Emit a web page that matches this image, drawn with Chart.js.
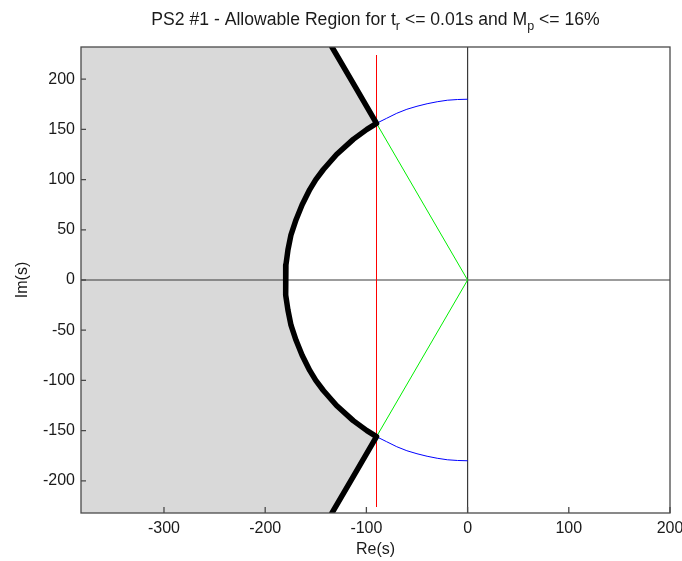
<!DOCTYPE html>
<html>
<head>
<meta charset="utf-8">
<script src="https://cdn.jsdelivr.net/npm/chart.js@4.4.1/dist/chart.umd.min.js"></script>
<style>
  html, body { margin: 0; padding: 0; background: #ffffff; }
  canvas { display: block; }
</style>
</head>
<body>
<canvas id="c" width="682" height="561"></canvas>
<script>
// ---- data ----
const xRange = [-382, 200];
const yRange = [-232, 232];
const xTickValues = [-300, -200, -100, 0, 100, 200];
const yTickValues = [-200, -150, -100, -50, 0, 50, 100, 150, 200];

// allowable-region boundary (thick black)
const boundaryX = [-134, -112, -90, -99.5, -113, -129.5, -142.5, -150, -156, -163.5, -169.5, -174.5, -177.5, -179.5, -180,
                   -179.5, -177.5, -174.5, -169.5, -163.5, -156, -150, -142.5, -129.5, -113, -99.5, -90, -112, -134];
const boundaryY = [232, 194, 156, 150, 140, 125, 110, 100, 90, 75, 60, 45, 30, 15, 0,
                   -15, -30, -45, -60, -75, -90, -100, -110, -125, -140, -150, -156, -194, -232];

// blue arcs (radius of natural frequency)
const blueX = [-90, -80, -70, -60, -50, -40, -30, -20, -10, 0];
const blueUpperY = [156, 161, 166, 170, 173, 175.5, 177.5, 179, 179.7, 180];
const blueLowerY = [-156, -161, -166, -170, -173, -175.5, -177.5, -179, -179.7, -180];

// green damping lines
const greenX = [-90, 0, -90];
const greenY = [156, 0, -156];

// red rise-time line
const redX = [-90, -90];
const redY = [224, -226];

// axis lines through origin
const hAxisX = [-382, 200];
const hAxisY = [0, 0];
const vAxisX = [0, 0];
const vAxisY = [-232, 232];

const titleParts = [
  { t: 'PS2 #1 - Allowable Region for t', sub: false },
  { t: 'r', sub: true },
  { t: ' <= 0.01s and M', sub: false },
  { t: 'p', sub: true },
  { t: ' <= 16%', sub: false }
];

const FONT = "'Liberation Sans', Arial, sans-serif";
const TEXT = '#1a1a1a';

const pts = (xs, ys) => xs.map((x, i) => ({ x: x, y: ys[i] }));

const regionFill = {
  id: 'regionFill',
  beforeDatasetsDraw(chart) {
    const meta = chart.getDatasetMeta(0);
    const a = chart.chartArea;
    const ctx = chart.ctx;
    const xs = chart.scales.x, ys = chart.scales.y;
    ctx.save();
    ctx.beginPath();
    ctx.rect(a.left, a.top, a.right - a.left, a.bottom - a.top);
    ctx.clip();
    ctx.beginPath();
    ctx.moveTo(xs.getPixelForValue(xRange[0]), ys.getPixelForValue(yRange[1]));
    meta.data.forEach(p => ctx.lineTo(p.x, p.y));
    ctx.lineTo(xs.getPixelForValue(xRange[0]), ys.getPixelForValue(yRange[0]));
    ctx.closePath();
    ctx.fillStyle = '#d9d9d9';
    ctx.fill();
    ctx.restore();
  }
};

const frame = {
  id: 'frame',
  afterDraw(chart) {
    const a = chart.chartArea;
    const ctx = chart.ctx;
    ctx.save();
    ctx.strokeStyle = '#4a4a4a';
    ctx.lineWidth = 1.3;
    // inward ticks
    ctx.beginPath();
    chart.scales.x.ticks.forEach(t => {
      const px = chart.scales.x.getPixelForValue(t.value);
      ctx.moveTo(px, a.bottom);
      ctx.lineTo(px, a.bottom - 6);
    });
    chart.scales.y.ticks.forEach(t => {
      const py = chart.scales.y.getPixelForValue(t.value);
      ctx.moveTo(a.left, py);
      ctx.lineTo(a.left + 5, py);
    });
    ctx.stroke();
    ctx.strokeRect(a.left, a.top, a.right - a.left, a.bottom - a.top);

    // title with subscripts
    const main = '17.6px ' + FONT, sub = '12.5px ' + FONT;
    let total = 0;
    titleParts.forEach(p => { ctx.font = p.sub ? sub : main; total += ctx.measureText(p.t).width; });
    let x = (a.left + a.right) / 2 - total / 2;
    ctx.fillStyle = TEXT;
    ctx.textBaseline = 'alphabetic';
    ctx.textAlign = 'left';
    titleParts.forEach(p => {
      ctx.font = p.sub ? sub : main;
      ctx.fillText(p.t, x, p.sub ? 30 : 25);
      x += ctx.measureText(p.t).width;
    });
    ctx.restore();
  }
};

const lineDs = (data, color, width, extra) => Object.assign({
  data: data, showLine: true, borderColor: color, backgroundColor: color,
  borderWidth: width, pointRadius: 0, pointHoverRadius: 0, tension: 0, fill: false
}, extra || {});

new Chart(document.getElementById('c'), {
  type: 'scatter',
  data: {
    datasets: [
      lineDs(pts(boundaryX, boundaryY), '#000000', 5.5, { clip: 0, borderJoinStyle: 'round', borderCapStyle: 'round' }),
      lineDs(pts(greenX, greenY), '#00ee00', 1),
      lineDs(pts(blueX, blueUpperY), '#0000ff', 1),
      lineDs(pts(blueX, blueLowerY), '#0000ff', 1),
      lineDs(pts(redX, redY), '#ff0000', 1),
      lineDs(pts(hAxisX, hAxisY), '#3a3a3a', 1.2),
      lineDs(pts(vAxisX, vAxisY), '#3a3a3a', 1.2)
    ]
  },
  options: {
    responsive: false,
    animation: false,
    devicePixelRatio: 1,
    events: [],
    layout: { padding: { top: 47, right: 12, left: 0, bottom: 0 } },
    plugins: { legend: { display: false }, tooltip: { enabled: false }, title: { display: false } },
    scales: {
      x: {
        type: 'linear', position: 'bottom', min: xRange[0], max: xRange[1],
        afterBuildTicks: s => { s.ticks = xTickValues.map(v => ({ value: v })); },
        afterFit: s => { s.height = 48; s.paddingLeft = 0; s.paddingRight = 0; },
        grid: { display: false, drawTicks: false },
        border: { display: false },
        ticks: { font: { family: FONT, size: 16 }, color: TEXT, padding: 6, maxRotation: 0 },
        title: { display: true, text: 'Re(s)', font: { family: FONT, size: 16 }, color: TEXT, padding: { top: 0, bottom: 2 } }
      },
      y: {
        type: 'linear', position: 'left', min: yRange[0], max: yRange[1],
        afterBuildTicks: s => { s.ticks = yTickValues.map(v => ({ value: v })); },
        afterFit: s => { s.width = 81; s.paddingTop = 0; s.paddingBottom = 0; },
        grid: { display: false, drawTicks: false },
        border: { display: false },
        ticks: { font: { family: FONT, size: 16 }, color: TEXT, padding: 6 },
        title: { display: true, text: 'Im(s)', font: { family: FONT, size: 16 }, color: TEXT, padding: { top: 13, bottom: 0 } }
      }
    }
  },
  plugins: [regionFill, frame]
});
</script>
</body>
</html>
